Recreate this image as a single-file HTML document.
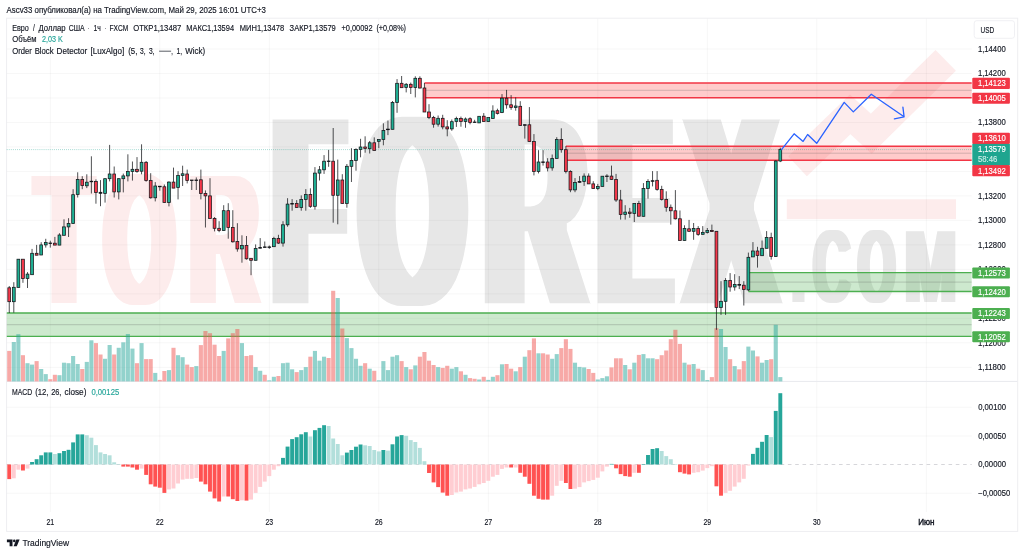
<!DOCTYPE html>
<html lang="ru"><head><meta charset="utf-8"><title>EURUSD chart</title>
<style>html,body{margin:0;padding:0;background:#fff;}body{width:1024px;height:555px;overflow:hidden;}svg{display:block;font-family:"Liberation Sans", sans-serif;}</style>
</head><body>
<svg width="1024" height="555" viewBox="0 0 1024 555">
<rect width="1024" height="555" fill="#fff"/>
<text x="6.5" y="12.6" font-size="8.2" fill="#131722" stroke="#131722" stroke-width="0.15" textLength="259.4" lengthAdjust="spacingAndGlyphs">Ascv33 опубликовал(а) на TradingView.com, Май 29, 2025 16:01 UTC+3</text>
<rect x="6.6" y="18.2" width="1011.1" height="513.2" fill="none" stroke="#eeeef1" stroke-width="1"/>
<defs>
<filter id="fat3" x="-5%" y="-5%" width="110%" height="110%"><feMorphology operator="dilate" radius="3 0"/><feMorphology operator="erode" radius="0 1"/></filter>
<filter id="fat6" x="-5%" y="-5%" width="110%" height="110%"><feMorphology operator="dilate" radius="6 0"/><feMorphology operator="erode" radius="0 1"/></filter>
<filter id="fat10" x="-5%" y="-5%" width="110%" height="110%"><feMorphology operator="dilate" radius="10 0"/><feMorphology operator="erode" radius="0 3"/></filter>
</defs>
<g id="wm">
<g filter="url(#fat6)"><text id="wm-tor" y="303.6" font-size="187.0" font-weight="bold" fill="#fdecec"><tspan x="36.61" textLength="55.06" lengthAdjust="spacingAndGlyphs">T</tspan><tspan x="104.43" textLength="69.71" lengthAdjust="spacingAndGlyphs">O</tspan><tspan x="190.09" textLength="68.00" lengthAdjust="spacingAndGlyphs">R</tspan></text></g>
<g filter="url(#fat10)"><text id="wm-forex" y="306.3" font-size="275.8" font-weight="bold" fill="#e7e7e7"><tspan x="275.22" textLength="67.24" lengthAdjust="spacingAndGlyphs">F</tspan><tspan x="361.08" textLength="102.88" lengthAdjust="spacingAndGlyphs">O</tspan><tspan x="485.57" textLength="99.49" lengthAdjust="spacingAndGlyphs">R</tspan><tspan x="600.87" textLength="68.01" lengthAdjust="spacingAndGlyphs">E</tspan><tspan x="686.60" textLength="89.04" lengthAdjust="spacingAndGlyphs">X</tspan></text></g>
<g filter="url(#fat3)"><text id="wm-com" y="302.6" font-size="104.8" font-weight="bold" fill="#e7e7e7"><tspan x="792.39" textLength="11.91" lengthAdjust="spacingAndGlyphs" font-size="78.0">.</tspan><tspan x="813.20" textLength="37.05" lengthAdjust="spacingAndGlyphs">C</tspan><tspan x="858.04" textLength="37.21" lengthAdjust="spacingAndGlyphs">O</tspan><tspan x="904.84" textLength="51.67" lengthAdjust="spacingAndGlyphs">M</tspan></text></g>
<rect x="786.8" y="199.3" width="169.2" height="19.8" fill="#fdecec"/>
<path d="M798.75 146.35L807.4 155.6L850.2 114.4L871.3 133.7L945.7 60.4" fill="none" stroke="#fdecec" stroke-width="29" stroke-linejoin="miter" stroke-miterlimit="10"/>
</g>
<g stroke="rgba(20,22,35,0.048)" stroke-width="0.8" fill="none">
<path d="M6.8 49.00H971.7"/>
<path d="M6.8 73.48H971.7"/>
<path d="M6.8 97.97H971.7"/>
<path d="M6.8 122.45H971.7"/>
<path d="M6.8 146.94H971.7"/>
<path d="M6.8 171.43H971.7"/>
<path d="M6.8 195.91H971.7"/>
<path d="M6.8 220.39H971.7"/>
<path d="M6.8 244.88H971.7"/>
<path d="M6.8 269.37H971.7"/>
<path d="M6.8 293.85H971.7"/>
<path d="M6.8 318.33H971.7"/>
<path d="M6.8 342.82H971.7"/>
<path d="M6.8 367.31H971.7"/>
<path d="M6.8 407.20H971.7"/>
<path d="M6.8 436.00H971.7"/>
<path d="M6.8 493.20H971.7"/>
<path d="M50.31 18.7V512"/>
<path d="M159.81 18.7V512"/>
<path d="M269.31 18.7V512"/>
<path d="M378.81 18.7V512"/>
<path d="M488.31 18.7V512"/>
<path d="M597.81 18.7V512"/>
<path d="M707.31 18.7V512"/>
<path d="M816.81 18.7V512"/>
<path d="M926.31 18.7V512"/>
</g>
<path d="M6.8 381.4H1017.3" stroke="#e8e9ee" stroke-width="1" fill="none"/>
<g id="zones">
<rect x="424.4" y="83.0" width="547.3" height="14.7" fill="rgba(255,82,82,0.30)"/>
<path d="M424.4 83.0H971.7M424.4 97.7H971.7" stroke="#f23645" stroke-width="1.35" fill="none"/>
<path d="M424.4 90.3H971.7" stroke="rgba(90,90,90,0.45)" stroke-width="0.6" fill="none"/>
<rect x="565.9" y="146.2" width="405.8" height="14.0" fill="rgba(255,82,82,0.30)"/>
<path d="M565.9 146.2H971.7M565.9 160.2H971.7" stroke="#f23645" stroke-width="1.35" fill="none"/>
<path d="M565.9 153.2H971.7" stroke="rgba(90,90,90,0.45)" stroke-width="0.6" fill="none"/>
<rect x="748.4" y="272.6" width="223.3" height="18.9" fill="rgba(76,175,80,0.28)"/>
<path d="M748.4 272.6H971.7M748.4 291.5H971.7" stroke="#4caf50" stroke-width="1.35" fill="none"/>
<path d="M748.4 282.1H971.7" stroke="rgba(90,90,90,0.45)" stroke-width="0.6" fill="none"/>
<rect x="6.8" y="313.0" width="964.9" height="23.4" fill="rgba(76,175,80,0.28)"/>
<path d="M6.8 313.0H971.7M6.8 336.4H971.7" stroke="#4caf50" stroke-width="1.35" fill="none"/>
<path d="M6.8 324.7H971.7" stroke="rgba(90,90,90,0.45)" stroke-width="0.6" fill="none"/>
</g>
<g id="vol">
<rect x="7.20" y="350.9" width="4.1" height="30.5" fill="rgba(239,83,80,0.5)"/>
<rect x="11.76" y="342.0" width="4.1" height="39.4" fill="rgba(38,166,154,0.5)"/>
<rect x="16.32" y="334.2" width="4.1" height="47.2" fill="rgba(38,166,154,0.5)"/>
<rect x="20.89" y="355.2" width="4.1" height="26.2" fill="rgba(239,83,80,0.5)"/>
<rect x="25.45" y="363.2" width="4.1" height="18.2" fill="rgba(38,166,154,0.5)"/>
<rect x="30.01" y="364.6" width="4.1" height="16.8" fill="rgba(38,166,154,0.5)"/>
<rect x="34.58" y="361.1" width="4.1" height="20.3" fill="rgba(239,83,80,0.5)"/>
<rect x="39.14" y="369.0" width="4.1" height="12.4" fill="rgba(38,166,154,0.5)"/>
<rect x="43.70" y="374.1" width="4.1" height="7.3" fill="rgba(38,166,154,0.5)"/>
<rect x="48.26" y="379.2" width="4.1" height="2.2" fill="rgba(239,83,80,0.5)"/>
<rect x="52.83" y="374.8" width="4.1" height="6.6" fill="rgba(239,83,80,0.5)"/>
<rect x="57.39" y="375.2" width="4.1" height="6.2" fill="rgba(38,166,154,0.5)"/>
<rect x="61.95" y="362.7" width="4.1" height="18.7" fill="rgba(38,166,154,0.5)"/>
<rect x="66.51" y="363.2" width="4.1" height="18.2" fill="rgba(38,166,154,0.5)"/>
<rect x="71.08" y="356.0" width="4.1" height="25.4" fill="rgba(38,166,154,0.5)"/>
<rect x="75.64" y="364.0" width="4.1" height="17.4" fill="rgba(38,166,154,0.5)"/>
<rect x="80.20" y="369.0" width="4.1" height="12.4" fill="rgba(239,83,80,0.5)"/>
<rect x="84.76" y="361.9" width="4.1" height="19.5" fill="rgba(38,166,154,0.5)"/>
<rect x="89.33" y="340.3" width="4.1" height="41.1" fill="rgba(38,166,154,0.5)"/>
<rect x="93.89" y="343.1" width="4.1" height="38.3" fill="rgba(239,83,80,0.5)"/>
<rect x="98.45" y="354.5" width="4.1" height="26.9" fill="rgba(239,83,80,0.5)"/>
<rect x="103.01" y="358.8" width="4.1" height="22.6" fill="rgba(38,166,154,0.5)"/>
<rect x="107.58" y="345.0" width="4.1" height="36.4" fill="rgba(38,166,154,0.5)"/>
<rect x="112.14" y="354.5" width="4.1" height="26.9" fill="rgba(239,83,80,0.5)"/>
<rect x="116.70" y="347.8" width="4.1" height="33.6" fill="rgba(38,166,154,0.5)"/>
<rect x="121.26" y="342.3" width="4.1" height="39.1" fill="rgba(38,166,154,0.5)"/>
<rect x="125.83" y="334.0" width="4.1" height="47.4" fill="rgba(38,166,154,0.5)"/>
<rect x="130.39" y="348.6" width="4.1" height="32.8" fill="rgba(38,166,154,0.5)"/>
<rect x="134.95" y="363.2" width="4.1" height="18.2" fill="rgba(239,83,80,0.5)"/>
<rect x="139.51" y="343.1" width="4.1" height="38.3" fill="rgba(38,166,154,0.5)"/>
<rect x="144.07" y="359.1" width="4.1" height="22.3" fill="rgba(239,83,80,0.5)"/>
<rect x="148.64" y="359.1" width="4.1" height="22.3" fill="rgba(239,83,80,0.5)"/>
<rect x="153.20" y="372.9" width="4.1" height="8.5" fill="rgba(38,166,154,0.5)"/>
<rect x="157.76" y="379.9" width="4.1" height="1.5" fill="rgba(239,83,80,0.5)"/>
<rect x="162.32" y="371.0" width="4.1" height="10.4" fill="rgba(239,83,80,0.5)"/>
<rect x="166.89" y="370.1" width="4.1" height="11.3" fill="rgba(38,166,154,0.5)"/>
<rect x="171.45" y="347.8" width="4.1" height="33.6" fill="rgba(239,83,80,0.5)"/>
<rect x="176.01" y="355.2" width="4.1" height="26.2" fill="rgba(38,166,154,0.5)"/>
<rect x="180.57" y="357.2" width="4.1" height="24.2" fill="rgba(38,166,154,0.5)"/>
<rect x="185.14" y="364.6" width="4.1" height="16.8" fill="rgba(239,83,80,0.5)"/>
<rect x="189.70" y="367.1" width="4.1" height="14.3" fill="rgba(239,83,80,0.5)"/>
<rect x="194.26" y="366.1" width="4.1" height="15.3" fill="rgba(38,166,154,0.5)"/>
<rect x="198.82" y="345.1" width="4.1" height="36.3" fill="rgba(239,83,80,0.5)"/>
<rect x="203.39" y="331.0" width="4.1" height="50.4" fill="rgba(239,83,80,0.5)"/>
<rect x="207.95" y="333.2" width="4.1" height="48.2" fill="rgba(239,83,80,0.5)"/>
<rect x="212.51" y="344.7" width="4.1" height="36.7" fill="rgba(239,83,80,0.5)"/>
<rect x="217.07" y="356.0" width="4.1" height="25.4" fill="rgba(239,83,80,0.5)"/>
<rect x="221.64" y="350.9" width="4.1" height="30.5" fill="rgba(38,166,154,0.5)"/>
<rect x="226.20" y="338.4" width="4.1" height="43.0" fill="rgba(239,83,80,0.5)"/>
<rect x="230.76" y="333.2" width="4.1" height="48.2" fill="rgba(239,83,80,0.5)"/>
<rect x="235.32" y="329.0" width="4.1" height="52.4" fill="rgba(239,83,80,0.5)"/>
<rect x="239.89" y="343.1" width="4.1" height="38.3" fill="rgba(38,166,154,0.5)"/>
<rect x="244.45" y="356.0" width="4.1" height="25.4" fill="rgba(239,83,80,0.5)"/>
<rect x="249.01" y="355.2" width="4.1" height="26.2" fill="rgba(239,83,80,0.5)"/>
<rect x="253.57" y="367.1" width="4.1" height="14.3" fill="rgba(38,166,154,0.5)"/>
<rect x="258.14" y="370.8" width="4.1" height="10.6" fill="rgba(38,166,154,0.5)"/>
<rect x="262.70" y="374.8" width="4.1" height="6.6" fill="rgba(239,83,80,0.5)"/>
<rect x="267.26" y="380.3" width="4.1" height="1.1" fill="rgba(38,166,154,0.5)"/>
<rect x="271.82" y="376.8" width="4.1" height="4.6" fill="rgba(38,166,154,0.5)"/>
<rect x="276.39" y="376.0" width="4.1" height="5.4" fill="rgba(239,83,80,0.5)"/>
<rect x="280.95" y="363.2" width="4.1" height="18.2" fill="rgba(38,166,154,0.5)"/>
<rect x="285.51" y="362.7" width="4.1" height="18.7" fill="rgba(38,166,154,0.5)"/>
<rect x="290.07" y="369.3" width="4.1" height="12.1" fill="rgba(38,166,154,0.5)"/>
<rect x="294.64" y="372.1" width="4.1" height="9.3" fill="rgba(239,83,80,0.5)"/>
<rect x="299.20" y="370.1" width="4.1" height="11.3" fill="rgba(38,166,154,0.5)"/>
<rect x="303.76" y="367.1" width="4.1" height="14.3" fill="rgba(38,166,154,0.5)"/>
<rect x="308.32" y="356.7" width="4.1" height="24.7" fill="rgba(239,83,80,0.5)"/>
<rect x="312.89" y="350.9" width="4.1" height="30.5" fill="rgba(38,166,154,0.5)"/>
<rect x="317.45" y="360.7" width="4.1" height="20.7" fill="rgba(38,166,154,0.5)"/>
<rect x="322.01" y="356.7" width="4.1" height="24.7" fill="rgba(38,166,154,0.5)"/>
<rect x="326.57" y="358.0" width="4.1" height="23.4" fill="rgba(239,83,80,0.5)"/>
<rect x="331.14" y="290.8" width="4.1" height="90.6" fill="rgba(239,83,80,0.5)"/>
<rect x="335.70" y="298.0" width="4.1" height="83.4" fill="rgba(38,166,154,0.5)"/>
<rect x="340.26" y="328.5" width="4.1" height="52.9" fill="rgba(239,83,80,0.5)"/>
<rect x="344.82" y="338.1" width="4.1" height="43.3" fill="rgba(38,166,154,0.5)"/>
<rect x="349.39" y="348.1" width="4.1" height="33.3" fill="rgba(38,166,154,0.5)"/>
<rect x="353.95" y="358.8" width="4.1" height="22.6" fill="rgba(38,166,154,0.5)"/>
<rect x="358.51" y="365.8" width="4.1" height="15.6" fill="rgba(38,166,154,0.5)"/>
<rect x="363.07" y="363.2" width="4.1" height="18.2" fill="rgba(239,83,80,0.5)"/>
<rect x="367.64" y="368.7" width="4.1" height="12.7" fill="rgba(38,166,154,0.5)"/>
<rect x="372.20" y="370.8" width="4.1" height="10.6" fill="rgba(239,83,80,0.5)"/>
<rect x="376.76" y="380.3" width="4.1" height="1.1" fill="rgba(38,166,154,0.5)"/>
<rect x="381.32" y="361.1" width="4.1" height="20.3" fill="rgba(38,166,154,0.5)"/>
<rect x="385.89" y="370.1" width="4.1" height="11.3" fill="rgba(38,166,154,0.5)"/>
<rect x="390.45" y="356.7" width="4.1" height="24.7" fill="rgba(38,166,154,0.5)"/>
<rect x="395.01" y="355.2" width="4.1" height="26.2" fill="rgba(38,166,154,0.5)"/>
<rect x="399.57" y="361.1" width="4.1" height="20.3" fill="rgba(239,83,80,0.5)"/>
<rect x="404.14" y="367.1" width="4.1" height="14.3" fill="rgba(38,166,154,0.5)"/>
<rect x="408.70" y="369.3" width="4.1" height="12.1" fill="rgba(239,83,80,0.5)"/>
<rect x="413.26" y="365.4" width="4.1" height="16.0" fill="rgba(38,166,154,0.5)"/>
<rect x="417.82" y="356.7" width="4.1" height="24.7" fill="rgba(239,83,80,0.5)"/>
<rect x="422.39" y="352.0" width="4.1" height="29.4" fill="rgba(239,83,80,0.5)"/>
<rect x="426.95" y="360.7" width="4.1" height="20.7" fill="rgba(239,83,80,0.5)"/>
<rect x="431.51" y="365.0" width="4.1" height="16.4" fill="rgba(239,83,80,0.5)"/>
<rect x="436.07" y="367.1" width="4.1" height="14.3" fill="rgba(38,166,154,0.5)"/>
<rect x="440.64" y="367.9" width="4.1" height="13.5" fill="rgba(239,83,80,0.5)"/>
<rect x="445.20" y="365.8" width="4.1" height="15.6" fill="rgba(239,83,80,0.5)"/>
<rect x="449.76" y="368.7" width="4.1" height="12.7" fill="rgba(38,166,154,0.5)"/>
<rect x="454.32" y="367.1" width="4.1" height="14.3" fill="rgba(38,166,154,0.5)"/>
<rect x="458.89" y="371.3" width="4.1" height="10.1" fill="rgba(239,83,80,0.5)"/>
<rect x="463.45" y="374.8" width="4.1" height="6.6" fill="rgba(38,166,154,0.5)"/>
<rect x="468.01" y="378.1" width="4.1" height="3.3" fill="rgba(239,83,80,0.5)"/>
<rect x="472.57" y="378.8" width="4.1" height="2.6" fill="rgba(239,83,80,0.5)"/>
<rect x="477.14" y="379.5" width="4.1" height="1.9" fill="rgba(38,166,154,0.5)"/>
<rect x="481.70" y="376.8" width="4.1" height="4.6" fill="rgba(239,83,80,0.5)"/>
<rect x="486.26" y="379.9" width="4.1" height="1.5" fill="rgba(38,166,154,0.5)"/>
<rect x="490.82" y="376.8" width="4.1" height="4.6" fill="rgba(38,166,154,0.5)"/>
<rect x="495.39" y="375.2" width="4.1" height="6.2" fill="rgba(239,83,80,0.5)"/>
<rect x="499.95" y="364.3" width="4.1" height="17.1" fill="rgba(38,166,154,0.5)"/>
<rect x="504.51" y="364.0" width="4.1" height="17.4" fill="rgba(239,83,80,0.5)"/>
<rect x="509.07" y="368.7" width="4.1" height="12.7" fill="rgba(239,83,80,0.5)"/>
<rect x="513.64" y="371.3" width="4.1" height="10.1" fill="rgba(38,166,154,0.5)"/>
<rect x="518.20" y="367.1" width="4.1" height="14.3" fill="rgba(239,83,80,0.5)"/>
<rect x="522.76" y="356.7" width="4.1" height="24.7" fill="rgba(38,166,154,0.5)"/>
<rect x="527.33" y="350.2" width="4.1" height="31.2" fill="rgba(239,83,80,0.5)"/>
<rect x="531.89" y="338.4" width="4.1" height="43.0" fill="rgba(239,83,80,0.5)"/>
<rect x="536.45" y="353.3" width="4.1" height="28.1" fill="rgba(38,166,154,0.5)"/>
<rect x="541.01" y="353.3" width="4.1" height="28.1" fill="rgba(239,83,80,0.5)"/>
<rect x="545.58" y="354.5" width="4.1" height="26.9" fill="rgba(239,83,80,0.5)"/>
<rect x="550.14" y="358.8" width="4.1" height="22.6" fill="rgba(38,166,154,0.5)"/>
<rect x="554.70" y="354.1" width="4.1" height="27.3" fill="rgba(38,166,154,0.5)"/>
<rect x="559.26" y="348.1" width="4.1" height="33.3" fill="rgba(239,83,80,0.5)"/>
<rect x="563.83" y="339.2" width="4.1" height="42.2" fill="rgba(239,83,80,0.5)"/>
<rect x="568.39" y="348.9" width="4.1" height="32.5" fill="rgba(239,83,80,0.5)"/>
<rect x="572.95" y="362.7" width="4.1" height="18.7" fill="rgba(38,166,154,0.5)"/>
<rect x="577.51" y="366.9" width="4.1" height="14.5" fill="rgba(38,166,154,0.5)"/>
<rect x="582.08" y="367.4" width="4.1" height="14.0" fill="rgba(38,166,154,0.5)"/>
<rect x="586.64" y="369.0" width="4.1" height="12.4" fill="rgba(239,83,80,0.5)"/>
<rect x="591.20" y="372.9" width="4.1" height="8.5" fill="rgba(239,83,80,0.5)"/>
<rect x="595.76" y="379.5" width="4.1" height="1.9" fill="rgba(38,166,154,0.5)"/>
<rect x="600.33" y="378.1" width="4.1" height="3.3" fill="rgba(38,166,154,0.5)"/>
<rect x="604.89" y="376.3" width="4.1" height="5.1" fill="rgba(38,166,154,0.5)"/>
<rect x="609.45" y="367.4" width="4.1" height="14.0" fill="rgba(239,83,80,0.5)"/>
<rect x="614.01" y="358.3" width="4.1" height="23.1" fill="rgba(239,83,80,0.5)"/>
<rect x="618.58" y="358.3" width="4.1" height="23.1" fill="rgba(239,83,80,0.5)"/>
<rect x="623.14" y="365.0" width="4.1" height="16.4" fill="rgba(38,166,154,0.5)"/>
<rect x="627.70" y="369.3" width="4.1" height="12.1" fill="rgba(239,83,80,0.5)"/>
<rect x="632.26" y="362.7" width="4.1" height="18.7" fill="rgba(38,166,154,0.5)"/>
<rect x="636.83" y="354.9" width="4.1" height="26.5" fill="rgba(239,83,80,0.5)"/>
<rect x="641.39" y="354.1" width="4.1" height="27.3" fill="rgba(38,166,154,0.5)"/>
<rect x="645.95" y="358.3" width="4.1" height="23.1" fill="rgba(38,166,154,0.5)"/>
<rect x="650.51" y="358.3" width="4.1" height="23.1" fill="rgba(38,166,154,0.5)"/>
<rect x="655.08" y="359.2" width="4.1" height="22.2" fill="rgba(239,83,80,0.5)"/>
<rect x="659.64" y="355.2" width="4.1" height="26.2" fill="rgba(239,83,80,0.5)"/>
<rect x="664.20" y="350.5" width="4.1" height="30.9" fill="rgba(239,83,80,0.5)"/>
<rect x="668.76" y="339.2" width="4.1" height="42.2" fill="rgba(239,83,80,0.5)"/>
<rect x="673.33" y="329.8" width="4.1" height="51.6" fill="rgba(239,83,80,0.5)"/>
<rect x="677.89" y="343.9" width="4.1" height="37.5" fill="rgba(239,83,80,0.5)"/>
<rect x="682.45" y="362.7" width="4.1" height="18.7" fill="rgba(38,166,154,0.5)"/>
<rect x="687.01" y="364.6" width="4.1" height="16.8" fill="rgba(239,83,80,0.5)"/>
<rect x="691.58" y="364.0" width="4.1" height="17.4" fill="rgba(38,166,154,0.5)"/>
<rect x="696.14" y="368.7" width="4.1" height="12.7" fill="rgba(239,83,80,0.5)"/>
<rect x="700.70" y="370.1" width="4.1" height="11.3" fill="rgba(38,166,154,0.5)"/>
<rect x="705.26" y="380.0" width="4.1" height="1.4" fill="rgba(38,166,154,0.5)"/>
<rect x="709.83" y="377.1" width="4.1" height="4.3" fill="rgba(239,83,80,0.5)"/>
<rect x="714.39" y="328.2" width="4.1" height="53.2" fill="rgba(239,83,80,0.5)"/>
<rect x="718.95" y="329.0" width="4.1" height="52.4" fill="rgba(38,166,154,0.5)"/>
<rect x="723.51" y="347.0" width="4.1" height="34.4" fill="rgba(38,166,154,0.5)"/>
<rect x="728.08" y="359.2" width="4.1" height="22.2" fill="rgba(239,83,80,0.5)"/>
<rect x="732.64" y="366.1" width="4.1" height="15.3" fill="rgba(38,166,154,0.5)"/>
<rect x="737.20" y="369.3" width="4.1" height="12.1" fill="rgba(239,83,80,0.5)"/>
<rect x="741.76" y="361.1" width="4.1" height="20.3" fill="rgba(239,83,80,0.5)"/>
<rect x="746.33" y="346.6" width="4.1" height="34.8" fill="rgba(38,166,154,0.5)"/>
<rect x="750.89" y="350.5" width="4.1" height="30.9" fill="rgba(38,166,154,0.5)"/>
<rect x="755.45" y="356.4" width="4.1" height="25.0" fill="rgba(239,83,80,0.5)"/>
<rect x="760.01" y="362.7" width="4.1" height="18.7" fill="rgba(38,166,154,0.5)"/>
<rect x="764.58" y="360.0" width="4.1" height="21.4" fill="rgba(38,166,154,0.5)"/>
<rect x="769.14" y="359.2" width="4.1" height="22.2" fill="rgba(239,83,80,0.5)"/>
<rect x="773.70" y="324.8" width="4.1" height="56.6" fill="rgba(38,166,154,0.5)"/>
<rect x="778.26" y="377.1" width="4.1" height="4.3" fill="rgba(38,166,154,0.5)"/>
</g>
<path d="M6.8 149.6H971.7" stroke="#22a391" stroke-width="0.7" stroke-dasharray="0.7 1.35" fill="none" opacity="0.8"/>
<g id="candles">
<path d="M9.25 286.0V313.0" stroke="#14161a" stroke-width="0.75" fill="none"/>
<rect x="7.85" y="287.8" width="2.8" height="13.9" fill="#f5384b" stroke="#14161a" stroke-width="0.75"/>
<path d="M13.81 282.2V312.7" stroke="#14161a" stroke-width="0.75" fill="none"/>
<rect x="12.41" y="287.3" width="2.8" height="14.4" fill="#1fb094" stroke="#14161a" stroke-width="0.75"/>
<path d="M18.38 259.2V287.4" stroke="#14161a" stroke-width="0.75" fill="none"/>
<rect x="16.98" y="259.2" width="2.8" height="28.2" fill="#1fb094" stroke="#14161a" stroke-width="0.75"/>
<path d="M22.94 259.2V282.8" stroke="#14161a" stroke-width="0.75" fill="none"/>
<rect x="21.54" y="259.2" width="2.8" height="19.3" fill="#f5384b" stroke="#14161a" stroke-width="0.75"/>
<path d="M27.50 272.1V288.0" stroke="#14161a" stroke-width="0.75" fill="none"/>
<rect x="26.10" y="274.1" width="2.8" height="4.4" fill="#1fb094" stroke="#14161a" stroke-width="0.75"/>
<path d="M32.06 248.9V274.7" stroke="#14161a" stroke-width="0.75" fill="none"/>
<rect x="30.66" y="253.3" width="2.8" height="21.4" fill="#1fb094" stroke="#14161a" stroke-width="0.75"/>
<path d="M36.62 244.9V255.2" stroke="#14161a" stroke-width="0.75" fill="none"/>
<rect x="35.23" y="253.3" width="2.8" height="1.9" fill="#f5384b" stroke="#14161a" stroke-width="0.75"/>
<path d="M41.19 242.2V255.0" stroke="#14161a" stroke-width="0.75" fill="none"/>
<rect x="39.79" y="244.9" width="2.8" height="10.1" fill="#1fb094" stroke="#14161a" stroke-width="0.75"/>
<path d="M45.75 238.8V247.6" stroke="#14161a" stroke-width="0.75" fill="none"/>
<rect x="44.35" y="242.6" width="2.8" height="2.3" fill="#1fb094" stroke="#14161a" stroke-width="0.75"/>
<path d="M50.31 240.7V247.6" stroke="#14161a" stroke-width="0.75" fill="none"/>
<rect x="48.91" y="243.0" width="2.8" height="0.6" fill="#14161a" stroke="#14161a" stroke-width="0.75"/>
<path d="M54.88 236.9V245.1" stroke="#14161a" stroke-width="0.75" fill="none"/>
<rect x="53.48" y="243.2" width="2.8" height="1.9" fill="#f5384b" stroke="#14161a" stroke-width="0.75"/>
<path d="M59.44 233.2V245.1" stroke="#14161a" stroke-width="0.75" fill="none"/>
<rect x="58.04" y="235.0" width="2.8" height="10.1" fill="#1fb094" stroke="#14161a" stroke-width="0.75"/>
<path d="M64.00 219.3V235.3" stroke="#14161a" stroke-width="0.75" fill="none"/>
<rect x="62.60" y="226.9" width="2.8" height="8.4" fill="#1fb094" stroke="#14161a" stroke-width="0.75"/>
<path d="M68.56 218.2V237.0" stroke="#14161a" stroke-width="0.75" fill="none"/>
<rect x="67.16" y="223.4" width="2.8" height="3.5" fill="#1fb094" stroke="#14161a" stroke-width="0.75"/>
<path d="M73.12 189.2V223.6" stroke="#14161a" stroke-width="0.75" fill="none"/>
<rect x="71.72" y="194.7" width="2.8" height="28.9" fill="#1fb094" stroke="#14161a" stroke-width="0.75"/>
<path d="M77.69 172.3V197.5" stroke="#14161a" stroke-width="0.75" fill="none"/>
<rect x="76.29" y="179.4" width="2.8" height="15.1" fill="#1fb094" stroke="#14161a" stroke-width="0.75"/>
<path d="M82.25 176.2V189.2" stroke="#14161a" stroke-width="0.75" fill="none"/>
<rect x="80.85" y="179.4" width="2.8" height="6.2" fill="#f5384b" stroke="#14161a" stroke-width="0.75"/>
<path d="M86.81 174.3V188.1" stroke="#14161a" stroke-width="0.75" fill="none"/>
<rect x="85.41" y="182.2" width="2.8" height="3.6" fill="#1fb094" stroke="#14161a" stroke-width="0.75"/>
<path d="M91.38 156.3V193.5" stroke="#14161a" stroke-width="0.75" fill="none"/>
<rect x="89.97" y="181.2" width="2.8" height="0.6" fill="#14161a" stroke="#14161a" stroke-width="0.75"/>
<path d="M95.94 179.4V203.7" stroke="#14161a" stroke-width="0.75" fill="none"/>
<rect x="94.54" y="181.4" width="2.8" height="11.0" fill="#f5384b" stroke="#14161a" stroke-width="0.75"/>
<path d="M100.50 180.1V206.2" stroke="#14161a" stroke-width="0.75" fill="none"/>
<rect x="99.10" y="192.3" width="2.8" height="1.0" fill="#14161a" stroke="#14161a" stroke-width="0.75"/>
<path d="M105.06 178.3V202.6" stroke="#14161a" stroke-width="0.75" fill="none"/>
<rect x="103.66" y="178.7" width="2.8" height="14.8" fill="#1fb094" stroke="#14161a" stroke-width="0.75"/>
<path d="M109.62 144.9V181.4" stroke="#14161a" stroke-width="0.75" fill="none"/>
<rect x="108.22" y="174.0" width="2.8" height="4.7" fill="#1fb094" stroke="#14161a" stroke-width="0.75"/>
<path d="M114.19 166.5V197.5" stroke="#14161a" stroke-width="0.75" fill="none"/>
<rect x="112.79" y="174.0" width="2.8" height="17.9" fill="#f5384b" stroke="#14161a" stroke-width="0.75"/>
<path d="M118.75 178.3V199.4" stroke="#14161a" stroke-width="0.75" fill="none"/>
<rect x="117.35" y="178.7" width="2.8" height="13.2" fill="#1fb094" stroke="#14161a" stroke-width="0.75"/>
<path d="M123.31 173.6V192.4" stroke="#14161a" stroke-width="0.75" fill="none"/>
<rect x="121.91" y="175.9" width="2.8" height="2.8" fill="#1fb094" stroke="#14161a" stroke-width="0.75"/>
<path d="M127.88 154.3V181.4" stroke="#14161a" stroke-width="0.75" fill="none"/>
<rect x="126.47" y="171.5" width="2.8" height="4.4" fill="#1fb094" stroke="#14161a" stroke-width="0.75"/>
<path d="M132.44 161.5V180.6" stroke="#14161a" stroke-width="0.75" fill="none"/>
<rect x="131.04" y="169.3" width="2.8" height="2.2" fill="#1fb094" stroke="#14161a" stroke-width="0.75"/>
<path d="M137.00 157.1V172.8" stroke="#14161a" stroke-width="0.75" fill="none"/>
<rect x="135.60" y="169.3" width="2.8" height="2.2" fill="#f5384b" stroke="#14161a" stroke-width="0.75"/>
<path d="M141.56 144.3V174.3" stroke="#14161a" stroke-width="0.75" fill="none"/>
<rect x="140.16" y="162.3" width="2.8" height="8.9" fill="#1fb094" stroke="#14161a" stroke-width="0.75"/>
<path d="M146.12 161.0V181.7" stroke="#14161a" stroke-width="0.75" fill="none"/>
<rect x="144.72" y="162.3" width="2.8" height="18.3" fill="#f5384b" stroke="#14161a" stroke-width="0.75"/>
<path d="M150.69 173.2V198.6" stroke="#14161a" stroke-width="0.75" fill="none"/>
<rect x="149.29" y="180.6" width="2.8" height="17.2" fill="#f5384b" stroke="#14161a" stroke-width="0.75"/>
<path d="M155.25 182.1V201.4" stroke="#14161a" stroke-width="0.75" fill="none"/>
<rect x="153.85" y="186.0" width="2.8" height="11.8" fill="#1fb094" stroke="#14161a" stroke-width="0.75"/>
<path d="M159.81 186.2V190.7" stroke="#14161a" stroke-width="0.75" fill="none"/>
<rect x="158.41" y="186.2" width="2.8" height="0.6" fill="#14161a" stroke="#14161a" stroke-width="0.75"/>
<path d="M164.38 184.5V202.5" stroke="#14161a" stroke-width="0.75" fill="none"/>
<rect x="162.97" y="186.8" width="2.8" height="15.7" fill="#f5384b" stroke="#14161a" stroke-width="0.75"/>
<path d="M168.94 181.3V206.4" stroke="#14161a" stroke-width="0.75" fill="none"/>
<rect x="167.54" y="182.1" width="2.8" height="20.4" fill="#1fb094" stroke="#14161a" stroke-width="0.75"/>
<path d="M173.50 167.6V188.1" stroke="#14161a" stroke-width="0.75" fill="none"/>
<rect x="172.10" y="182.1" width="2.8" height="6.0" fill="#f5384b" stroke="#14161a" stroke-width="0.75"/>
<path d="M178.06 171.2V199.4" stroke="#14161a" stroke-width="0.75" fill="none"/>
<rect x="176.66" y="175.4" width="2.8" height="12.2" fill="#1fb094" stroke="#14161a" stroke-width="0.75"/>
<path d="M182.62 165.7V186.0" stroke="#14161a" stroke-width="0.75" fill="none"/>
<rect x="181.22" y="173.8" width="2.8" height="1.6" fill="#1fb094" stroke="#14161a" stroke-width="0.75"/>
<path d="M187.19 169.6V183.4" stroke="#14161a" stroke-width="0.75" fill="none"/>
<rect x="185.79" y="174.0" width="2.8" height="6.6" fill="#f5384b" stroke="#14161a" stroke-width="0.75"/>
<path d="M191.75 180.0V190.0" stroke="#14161a" stroke-width="0.75" fill="none"/>
<rect x="190.35" y="180.0" width="2.8" height="0.6" fill="#14161a" stroke="#14161a" stroke-width="0.75"/>
<path d="M196.31 177.4V190.0" stroke="#14161a" stroke-width="0.75" fill="none"/>
<rect x="194.91" y="180.0" width="2.8" height="0.6" fill="#14161a" stroke="#14161a" stroke-width="0.75"/>
<path d="M200.88 169.6V199.4" stroke="#14161a" stroke-width="0.75" fill="none"/>
<rect x="199.47" y="179.8" width="2.8" height="13.6" fill="#f5384b" stroke="#14161a" stroke-width="0.75"/>
<path d="M205.44 190.4V227.5" stroke="#14161a" stroke-width="0.75" fill="none"/>
<rect x="204.04" y="193.4" width="2.8" height="2.5" fill="#f5384b" stroke="#14161a" stroke-width="0.75"/>
<path d="M210.00 178.2V218.5" stroke="#14161a" stroke-width="0.75" fill="none"/>
<rect x="208.60" y="195.9" width="2.8" height="22.6" fill="#f5384b" stroke="#14161a" stroke-width="0.75"/>
<path d="M214.56 217.1V231.4" stroke="#14161a" stroke-width="0.75" fill="none"/>
<rect x="213.16" y="218.5" width="2.8" height="9.8" fill="#f5384b" stroke="#14161a" stroke-width="0.75"/>
<path d="M219.12 221.2V232.2" stroke="#14161a" stroke-width="0.75" fill="none"/>
<rect x="217.72" y="228.3" width="2.8" height="2.3" fill="#f5384b" stroke="#14161a" stroke-width="0.75"/>
<path d="M223.69 205.2V230.6" stroke="#14161a" stroke-width="0.75" fill="none"/>
<rect x="222.29" y="210.7" width="2.8" height="19.9" fill="#1fb094" stroke="#14161a" stroke-width="0.75"/>
<path d="M228.25 203.2V238.7" stroke="#14161a" stroke-width="0.75" fill="none"/>
<rect x="226.85" y="210.7" width="2.8" height="16.7" fill="#f5384b" stroke="#14161a" stroke-width="0.75"/>
<path d="M232.81 210.2V242.6" stroke="#14161a" stroke-width="0.75" fill="none"/>
<rect x="231.41" y="227.4" width="2.8" height="14.4" fill="#f5384b" stroke="#14161a" stroke-width="0.75"/>
<path d="M237.38 223.2V251.7" stroke="#14161a" stroke-width="0.75" fill="none"/>
<rect x="235.97" y="241.5" width="2.8" height="7.4" fill="#f5384b" stroke="#14161a" stroke-width="0.75"/>
<path d="M241.94 235.3V262.7" stroke="#14161a" stroke-width="0.75" fill="none"/>
<rect x="240.54" y="245.5" width="2.8" height="3.4" fill="#1fb094" stroke="#14161a" stroke-width="0.75"/>
<path d="M246.50 236.0V259.6" stroke="#14161a" stroke-width="0.75" fill="none"/>
<rect x="245.10" y="245.5" width="2.8" height="13.3" fill="#f5384b" stroke="#14161a" stroke-width="0.75"/>
<path d="M251.06 258.3V275.2" stroke="#14161a" stroke-width="0.75" fill="none"/>
<rect x="249.66" y="258.3" width="2.8" height="2.0" fill="#f5384b" stroke="#14161a" stroke-width="0.75"/>
<path d="M255.62 244.4V260.3" stroke="#14161a" stroke-width="0.75" fill="none"/>
<rect x="254.22" y="248.6" width="2.8" height="11.7" fill="#1fb094" stroke="#14161a" stroke-width="0.75"/>
<path d="M260.19 238.1V248.3" stroke="#14161a" stroke-width="0.75" fill="none"/>
<rect x="258.79" y="247.6" width="2.8" height="0.6" fill="#14161a" stroke="#14161a" stroke-width="0.75"/>
<path d="M264.75 241.5V247.8" stroke="#14161a" stroke-width="0.75" fill="none"/>
<rect x="263.35" y="246.9" width="2.8" height="0.6" fill="#14161a" stroke="#14161a" stroke-width="0.75"/>
<path d="M269.31 245.5V248.9" stroke="#14161a" stroke-width="0.75" fill="none"/>
<rect x="267.91" y="246.9" width="2.8" height="0.6" fill="#14161a" stroke="#14161a" stroke-width="0.75"/>
<path d="M273.88 236.8V247.0" stroke="#14161a" stroke-width="0.75" fill="none"/>
<rect x="272.48" y="238.4" width="2.8" height="8.3" fill="#1fb094" stroke="#14161a" stroke-width="0.75"/>
<path d="M278.44 234.8V243.9" stroke="#14161a" stroke-width="0.75" fill="none"/>
<rect x="277.04" y="238.4" width="2.8" height="4.7" fill="#f5384b" stroke="#14161a" stroke-width="0.75"/>
<path d="M283.00 221.2V246.6" stroke="#14161a" stroke-width="0.75" fill="none"/>
<rect x="281.60" y="224.8" width="2.8" height="18.3" fill="#1fb094" stroke="#14161a" stroke-width="0.75"/>
<path d="M287.56 198.2V226.7" stroke="#14161a" stroke-width="0.75" fill="none"/>
<rect x="286.16" y="204.1" width="2.8" height="20.7" fill="#1fb094" stroke="#14161a" stroke-width="0.75"/>
<path d="M292.12 199.1V210.7" stroke="#14161a" stroke-width="0.75" fill="none"/>
<rect x="290.73" y="203.5" width="2.8" height="0.6" fill="#14161a" stroke="#14161a" stroke-width="0.75"/>
<path d="M296.69 200.1V207.5" stroke="#14161a" stroke-width="0.75" fill="none"/>
<rect x="295.29" y="203.5" width="2.8" height="4.0" fill="#f5384b" stroke="#14161a" stroke-width="0.75"/>
<path d="M301.25 195.4V210.7" stroke="#14161a" stroke-width="0.75" fill="none"/>
<rect x="299.85" y="199.4" width="2.8" height="8.1" fill="#1fb094" stroke="#14161a" stroke-width="0.75"/>
<path d="M305.81 189.1V210.7" stroke="#14161a" stroke-width="0.75" fill="none"/>
<rect x="304.41" y="194.6" width="2.8" height="4.8" fill="#1fb094" stroke="#14161a" stroke-width="0.75"/>
<path d="M310.38 188.3V207.9" stroke="#14161a" stroke-width="0.75" fill="none"/>
<rect x="308.98" y="194.5" width="2.8" height="11.8" fill="#f5384b" stroke="#14161a" stroke-width="0.75"/>
<path d="M314.94 167.1V209.6" stroke="#14161a" stroke-width="0.75" fill="none"/>
<rect x="313.54" y="173.1" width="2.8" height="33.2" fill="#1fb094" stroke="#14161a" stroke-width="0.75"/>
<path d="M319.50 166.0V180.5" stroke="#14161a" stroke-width="0.75" fill="none"/>
<rect x="318.10" y="169.8" width="2.8" height="3.3" fill="#1fb094" stroke="#14161a" stroke-width="0.75"/>
<path d="M324.06 155.1V173.9" stroke="#14161a" stroke-width="0.75" fill="none"/>
<rect x="322.66" y="161.2" width="2.8" height="8.6" fill="#1fb094" stroke="#14161a" stroke-width="0.75"/>
<path d="M328.62 149.9V166.8" stroke="#14161a" stroke-width="0.75" fill="none"/>
<rect x="327.23" y="161.0" width="2.8" height="0.6" fill="#14161a" stroke="#14161a" stroke-width="0.75"/>
<path d="M333.19 128.0V222.7" stroke="#14161a" stroke-width="0.75" fill="none"/>
<rect x="331.79" y="161.2" width="2.8" height="34.1" fill="#f5384b" stroke="#14161a" stroke-width="0.75"/>
<path d="M337.75 159.6V224.3" stroke="#14161a" stroke-width="0.75" fill="none"/>
<rect x="336.35" y="180.0" width="2.8" height="15.3" fill="#1fb094" stroke="#14161a" stroke-width="0.75"/>
<path d="M342.31 174.2V203.5" stroke="#14161a" stroke-width="0.75" fill="none"/>
<rect x="340.91" y="180.0" width="2.8" height="23.5" fill="#f5384b" stroke="#14161a" stroke-width="0.75"/>
<path d="M346.88 164.0V207.7" stroke="#14161a" stroke-width="0.75" fill="none"/>
<rect x="345.48" y="166.3" width="2.8" height="37.2" fill="#1fb094" stroke="#14161a" stroke-width="0.75"/>
<path d="M351.44 148.2V182.0" stroke="#14161a" stroke-width="0.75" fill="none"/>
<rect x="350.04" y="160.4" width="2.8" height="5.9" fill="#1fb094" stroke="#14161a" stroke-width="0.75"/>
<path d="M356.00 148.3V170.7" stroke="#14161a" stroke-width="0.75" fill="none"/>
<rect x="354.60" y="149.4" width="2.8" height="11.0" fill="#1fb094" stroke="#14161a" stroke-width="0.75"/>
<path d="M360.56 138.8V157.3" stroke="#14161a" stroke-width="0.75" fill="none"/>
<rect x="359.16" y="147.0" width="2.8" height="2.5" fill="#1fb094" stroke="#14161a" stroke-width="0.75"/>
<path d="M365.12 136.3V152.7" stroke="#14161a" stroke-width="0.75" fill="none"/>
<rect x="363.73" y="147.0" width="2.8" height="1.5" fill="#f5384b" stroke="#14161a" stroke-width="0.75"/>
<path d="M369.69 141.0V153.5" stroke="#14161a" stroke-width="0.75" fill="none"/>
<rect x="368.29" y="142.8" width="2.8" height="5.9" fill="#1fb094" stroke="#14161a" stroke-width="0.75"/>
<path d="M374.25 137.4V150.4" stroke="#14161a" stroke-width="0.75" fill="none"/>
<rect x="372.85" y="142.8" width="2.8" height="7.6" fill="#f5384b" stroke="#14161a" stroke-width="0.75"/>
<path d="M378.81 139.4V148.2" stroke="#14161a" stroke-width="0.75" fill="none"/>
<rect x="377.41" y="139.4" width="2.8" height="1.9" fill="#1fb094" stroke="#14161a" stroke-width="0.75"/>
<path d="M383.38 123.3V145.3" stroke="#14161a" stroke-width="0.75" fill="none"/>
<rect x="381.98" y="130.4" width="2.8" height="9.2" fill="#1fb094" stroke="#14161a" stroke-width="0.75"/>
<path d="M387.94 120.6V135.1" stroke="#14161a" stroke-width="0.75" fill="none"/>
<rect x="386.54" y="129.1" width="2.8" height="0.6" fill="#14161a" stroke="#14161a" stroke-width="0.75"/>
<path d="M392.50 101.0V129.3" stroke="#14161a" stroke-width="0.75" fill="none"/>
<rect x="391.10" y="102.6" width="2.8" height="26.7" fill="#1fb094" stroke="#14161a" stroke-width="0.75"/>
<path d="M397.06 79.1V112.8" stroke="#14161a" stroke-width="0.75" fill="none"/>
<rect x="395.66" y="83.3" width="2.8" height="19.3" fill="#1fb094" stroke="#14161a" stroke-width="0.75"/>
<path d="M401.62 76.0V87.7" stroke="#14161a" stroke-width="0.75" fill="none"/>
<rect x="400.23" y="83.3" width="2.8" height="4.4" fill="#f5384b" stroke="#14161a" stroke-width="0.75"/>
<path d="M406.19 83.0V92.4" stroke="#14161a" stroke-width="0.75" fill="none"/>
<rect x="404.79" y="84.3" width="2.8" height="3.1" fill="#1fb094" stroke="#14161a" stroke-width="0.75"/>
<path d="M410.75 82.6V94.0" stroke="#14161a" stroke-width="0.75" fill="none"/>
<rect x="409.35" y="84.3" width="2.8" height="3.1" fill="#f5384b" stroke="#14161a" stroke-width="0.75"/>
<path d="M415.31 76.3V97.4" stroke="#14161a" stroke-width="0.75" fill="none"/>
<rect x="413.91" y="78.3" width="2.8" height="9.1" fill="#1fb094" stroke="#14161a" stroke-width="0.75"/>
<path d="M419.88 76.3V88.5" stroke="#14161a" stroke-width="0.75" fill="none"/>
<rect x="418.48" y="78.3" width="2.8" height="9.7" fill="#f5384b" stroke="#14161a" stroke-width="0.75"/>
<path d="M424.44 83.0V112.0" stroke="#14161a" stroke-width="0.75" fill="none"/>
<rect x="423.04" y="88.0" width="2.8" height="24.0" fill="#f5384b" stroke="#14161a" stroke-width="0.75"/>
<path d="M429.00 104.2V119.1" stroke="#14161a" stroke-width="0.75" fill="none"/>
<rect x="427.60" y="112.0" width="2.8" height="5.5" fill="#f5384b" stroke="#14161a" stroke-width="0.75"/>
<path d="M433.56 115.9V127.7" stroke="#14161a" stroke-width="0.75" fill="none"/>
<rect x="432.16" y="117.5" width="2.8" height="6.7" fill="#f5384b" stroke="#14161a" stroke-width="0.75"/>
<path d="M438.12 115.5V126.6" stroke="#14161a" stroke-width="0.75" fill="none"/>
<rect x="436.73" y="118.3" width="2.8" height="5.9" fill="#1fb094" stroke="#14161a" stroke-width="0.75"/>
<path d="M442.69 114.8V129.3" stroke="#14161a" stroke-width="0.75" fill="none"/>
<rect x="441.29" y="118.3" width="2.8" height="8.6" fill="#f5384b" stroke="#14161a" stroke-width="0.75"/>
<path d="M447.25 120.2V136.3" stroke="#14161a" stroke-width="0.75" fill="none"/>
<rect x="445.85" y="126.9" width="2.8" height="2.0" fill="#f5384b" stroke="#14161a" stroke-width="0.75"/>
<path d="M451.81 119.5V130.8" stroke="#14161a" stroke-width="0.75" fill="none"/>
<rect x="450.41" y="121.7" width="2.8" height="7.2" fill="#1fb094" stroke="#14161a" stroke-width="0.75"/>
<path d="M456.38 116.7V126.9" stroke="#14161a" stroke-width="0.75" fill="none"/>
<rect x="454.98" y="118.6" width="2.8" height="2.8" fill="#1fb094" stroke="#14161a" stroke-width="0.75"/>
<path d="M460.94 116.6V126.7" stroke="#14161a" stroke-width="0.75" fill="none"/>
<rect x="459.54" y="118.5" width="2.8" height="3.0" fill="#f5384b" stroke="#14161a" stroke-width="0.75"/>
<path d="M465.50 117.5V127.8" stroke="#14161a" stroke-width="0.75" fill="none"/>
<rect x="464.10" y="119.0" width="2.8" height="2.5" fill="#1fb094" stroke="#14161a" stroke-width="0.75"/>
<path d="M470.06 117.3V124.3" stroke="#14161a" stroke-width="0.75" fill="none"/>
<rect x="468.66" y="118.7" width="2.8" height="3.8" fill="#f5384b" stroke="#14161a" stroke-width="0.75"/>
<path d="M474.62 119.8V122.5" stroke="#14161a" stroke-width="0.75" fill="none"/>
<rect x="473.23" y="122.0" width="2.8" height="0.6" fill="#14161a" stroke="#14161a" stroke-width="0.75"/>
<path d="M479.19 116.3V122.9" stroke="#14161a" stroke-width="0.75" fill="none"/>
<rect x="477.79" y="116.3" width="2.8" height="6.6" fill="#1fb094" stroke="#14161a" stroke-width="0.75"/>
<path d="M483.75 113.1V121.6" stroke="#14161a" stroke-width="0.75" fill="none"/>
<rect x="482.35" y="116.2" width="2.8" height="5.4" fill="#f5384b" stroke="#14161a" stroke-width="0.75"/>
<path d="M488.31 117.6V121.6" stroke="#14161a" stroke-width="0.75" fill="none"/>
<rect x="486.91" y="117.6" width="2.8" height="4.0" fill="#1fb094" stroke="#14161a" stroke-width="0.75"/>
<path d="M492.88 105.3V118.9" stroke="#14161a" stroke-width="0.75" fill="none"/>
<rect x="491.48" y="111.0" width="2.8" height="7.4" fill="#1fb094" stroke="#14161a" stroke-width="0.75"/>
<path d="M497.44 108.7V114.5" stroke="#14161a" stroke-width="0.75" fill="none"/>
<rect x="496.04" y="110.7" width="2.8" height="2.7" fill="#f5384b" stroke="#14161a" stroke-width="0.75"/>
<path d="M502.00 94.1V113.1" stroke="#14161a" stroke-width="0.75" fill="none"/>
<rect x="500.60" y="98.2" width="2.8" height="14.4" fill="#1fb094" stroke="#14161a" stroke-width="0.75"/>
<path d="M506.56 89.9V108.7" stroke="#14161a" stroke-width="0.75" fill="none"/>
<rect x="505.16" y="98.2" width="2.8" height="6.6" fill="#f5384b" stroke="#14161a" stroke-width="0.75"/>
<path d="M511.12 95.1V109.8" stroke="#14161a" stroke-width="0.75" fill="none"/>
<rect x="509.73" y="104.8" width="2.8" height="2.8" fill="#f5384b" stroke="#14161a" stroke-width="0.75"/>
<path d="M515.69 97.4V110.7" stroke="#14161a" stroke-width="0.75" fill="none"/>
<rect x="514.29" y="106.0" width="2.8" height="1.6" fill="#1fb094" stroke="#14161a" stroke-width="0.75"/>
<path d="M520.25 101.2V125.5" stroke="#14161a" stroke-width="0.75" fill="none"/>
<rect x="518.85" y="106.3" width="2.8" height="19.2" fill="#f5384b" stroke="#14161a" stroke-width="0.75"/>
<path d="M524.81 124.4V138.6" stroke="#14161a" stroke-width="0.75" fill="none"/>
<rect x="523.41" y="124.7" width="2.8" height="0.6" fill="#14161a" stroke="#14161a" stroke-width="0.75"/>
<path d="M529.38 107.1V141.6" stroke="#14161a" stroke-width="0.75" fill="none"/>
<rect x="527.98" y="124.8" width="2.8" height="16.8" fill="#f5384b" stroke="#14161a" stroke-width="0.75"/>
<path d="M533.94 134.1V175.4" stroke="#14161a" stroke-width="0.75" fill="none"/>
<rect x="532.54" y="141.6" width="2.8" height="29.8" fill="#f5384b" stroke="#14161a" stroke-width="0.75"/>
<path d="M538.50 150.2V173.4" stroke="#14161a" stroke-width="0.75" fill="none"/>
<rect x="537.10" y="162.0" width="2.8" height="9.4" fill="#1fb094" stroke="#14161a" stroke-width="0.75"/>
<path d="M543.06 150.2V165.6" stroke="#14161a" stroke-width="0.75" fill="none"/>
<rect x="541.66" y="161.9" width="2.8" height="0.6" fill="#14161a" stroke="#14161a" stroke-width="0.75"/>
<path d="M547.62 158.2V171.4" stroke="#14161a" stroke-width="0.75" fill="none"/>
<rect x="546.23" y="162.0" width="2.8" height="5.9" fill="#f5384b" stroke="#14161a" stroke-width="0.75"/>
<path d="M552.19 154.5V170.7" stroke="#14161a" stroke-width="0.75" fill="none"/>
<rect x="550.79" y="158.5" width="2.8" height="9.4" fill="#1fb094" stroke="#14161a" stroke-width="0.75"/>
<path d="M556.75 137.2V158.5" stroke="#14161a" stroke-width="0.75" fill="none"/>
<rect x="555.35" y="139.4" width="2.8" height="19.0" fill="#1fb094" stroke="#14161a" stroke-width="0.75"/>
<path d="M561.31 128.3V152.7" stroke="#14161a" stroke-width="0.75" fill="none"/>
<rect x="559.91" y="139.4" width="2.8" height="10.3" fill="#f5384b" stroke="#14161a" stroke-width="0.75"/>
<path d="M565.88 146.1V173.4" stroke="#14161a" stroke-width="0.75" fill="none"/>
<rect x="564.48" y="149.7" width="2.8" height="21.7" fill="#f5384b" stroke="#14161a" stroke-width="0.75"/>
<path d="M570.44 170.3V192.2" stroke="#14161a" stroke-width="0.75" fill="none"/>
<rect x="569.04" y="171.4" width="2.8" height="18.5" fill="#f5384b" stroke="#14161a" stroke-width="0.75"/>
<path d="M575.00 178.1V192.2" stroke="#14161a" stroke-width="0.75" fill="none"/>
<rect x="573.60" y="182.5" width="2.8" height="7.4" fill="#1fb094" stroke="#14161a" stroke-width="0.75"/>
<path d="M579.56 176.1V182.8" stroke="#14161a" stroke-width="0.75" fill="none"/>
<rect x="578.16" y="181.4" width="2.8" height="0.9" fill="#14161a" stroke="#14161a" stroke-width="0.75"/>
<path d="M584.12 173.4V185.9" stroke="#14161a" stroke-width="0.75" fill="none"/>
<rect x="582.73" y="176.1" width="2.8" height="5.5" fill="#1fb094" stroke="#14161a" stroke-width="0.75"/>
<path d="M588.69 173.4V183.9" stroke="#14161a" stroke-width="0.75" fill="none"/>
<rect x="587.29" y="176.1" width="2.8" height="7.8" fill="#f5384b" stroke="#14161a" stroke-width="0.75"/>
<path d="M593.25 181.2V188.6" stroke="#14161a" stroke-width="0.75" fill="none"/>
<rect x="591.85" y="183.9" width="2.8" height="4.7" fill="#f5384b" stroke="#14161a" stroke-width="0.75"/>
<path d="M597.81 183.9V190.2" stroke="#14161a" stroke-width="0.75" fill="none"/>
<rect x="596.41" y="186.4" width="2.8" height="2.2" fill="#1fb094" stroke="#14161a" stroke-width="0.75"/>
<path d="M602.38 176.2V186.4" stroke="#14161a" stroke-width="0.75" fill="none"/>
<rect x="600.98" y="176.2" width="2.8" height="10.2" fill="#1fb094" stroke="#14161a" stroke-width="0.75"/>
<path d="M606.94 174.2V182.0" stroke="#14161a" stroke-width="0.75" fill="none"/>
<rect x="605.54" y="176.0" width="2.8" height="0.6" fill="#14161a" stroke="#14161a" stroke-width="0.75"/>
<path d="M611.50 165.6V179.7" stroke="#14161a" stroke-width="0.75" fill="none"/>
<rect x="610.10" y="176.1" width="2.8" height="3.3" fill="#f5384b" stroke="#14161a" stroke-width="0.75"/>
<path d="M616.06 173.9V201.9" stroke="#14161a" stroke-width="0.75" fill="none"/>
<rect x="614.66" y="179.4" width="2.8" height="20.6" fill="#f5384b" stroke="#14161a" stroke-width="0.75"/>
<path d="M620.62 189.9V219.6" stroke="#14161a" stroke-width="0.75" fill="none"/>
<rect x="619.23" y="200.0" width="2.8" height="14.6" fill="#f5384b" stroke="#14161a" stroke-width="0.75"/>
<path d="M625.19 205.2V219.6" stroke="#14161a" stroke-width="0.75" fill="none"/>
<rect x="623.79" y="212.1" width="2.8" height="2.5" fill="#1fb094" stroke="#14161a" stroke-width="0.75"/>
<path d="M629.75 207.9V217.8" stroke="#14161a" stroke-width="0.75" fill="none"/>
<rect x="628.35" y="212.1" width="2.8" height="1.3" fill="#f5384b" stroke="#14161a" stroke-width="0.75"/>
<path d="M634.31 203.5V222.0" stroke="#14161a" stroke-width="0.75" fill="none"/>
<rect x="632.91" y="203.5" width="2.8" height="9.9" fill="#1fb094" stroke="#14161a" stroke-width="0.75"/>
<path d="M638.88 200.8V216.2" stroke="#14161a" stroke-width="0.75" fill="none"/>
<rect x="637.48" y="203.5" width="2.8" height="12.7" fill="#f5384b" stroke="#14161a" stroke-width="0.75"/>
<path d="M643.44 183.1V216.5" stroke="#14161a" stroke-width="0.75" fill="none"/>
<rect x="642.04" y="188.5" width="2.8" height="27.8" fill="#1fb094" stroke="#14161a" stroke-width="0.75"/>
<path d="M648.00 179.2V198.6" stroke="#14161a" stroke-width="0.75" fill="none"/>
<rect x="646.60" y="181.6" width="2.8" height="6.9" fill="#1fb094" stroke="#14161a" stroke-width="0.75"/>
<path d="M652.56 171.1V186.4" stroke="#14161a" stroke-width="0.75" fill="none"/>
<rect x="651.16" y="180.7" width="2.8" height="0.6" fill="#14161a" stroke="#14161a" stroke-width="0.75"/>
<path d="M657.12 171.1V190.7" stroke="#14161a" stroke-width="0.75" fill="none"/>
<rect x="655.73" y="180.3" width="2.8" height="9.1" fill="#f5384b" stroke="#14161a" stroke-width="0.75"/>
<path d="M661.69 185.8V200.5" stroke="#14161a" stroke-width="0.75" fill="none"/>
<rect x="660.29" y="189.4" width="2.8" height="10.1" fill="#f5384b" stroke="#14161a" stroke-width="0.75"/>
<path d="M666.25 191.3V211.7" stroke="#14161a" stroke-width="0.75" fill="none"/>
<rect x="664.85" y="199.5" width="2.8" height="7.8" fill="#f5384b" stroke="#14161a" stroke-width="0.75"/>
<path d="M670.81 204.5V224.6" stroke="#14161a" stroke-width="0.75" fill="none"/>
<rect x="669.41" y="207.3" width="2.8" height="3.5" fill="#f5384b" stroke="#14161a" stroke-width="0.75"/>
<path d="M675.38 190.1V219.5" stroke="#14161a" stroke-width="0.75" fill="none"/>
<rect x="673.98" y="210.8" width="2.8" height="8.0" fill="#f5384b" stroke="#14161a" stroke-width="0.75"/>
<path d="M679.94 210.5V240.5" stroke="#14161a" stroke-width="0.75" fill="none"/>
<rect x="678.54" y="218.8" width="2.8" height="21.7" fill="#f5384b" stroke="#14161a" stroke-width="0.75"/>
<path d="M684.50 225.3V240.5" stroke="#14161a" stroke-width="0.75" fill="none"/>
<rect x="683.10" y="228.5" width="2.8" height="12.0" fill="#1fb094" stroke="#14161a" stroke-width="0.75"/>
<path d="M689.06 219.9V231.9" stroke="#14161a" stroke-width="0.75" fill="none"/>
<rect x="687.66" y="228.8" width="2.8" height="2.5" fill="#f5384b" stroke="#14161a" stroke-width="0.75"/>
<path d="M693.62 223.0V239.8" stroke="#14161a" stroke-width="0.75" fill="none"/>
<rect x="692.23" y="228.5" width="2.8" height="2.8" fill="#1fb094" stroke="#14161a" stroke-width="0.75"/>
<path d="M698.19 226.1V235.8" stroke="#14161a" stroke-width="0.75" fill="none"/>
<rect x="696.79" y="228.5" width="2.8" height="5.9" fill="#f5384b" stroke="#14161a" stroke-width="0.75"/>
<path d="M702.75 226.1V234.7" stroke="#14161a" stroke-width="0.75" fill="none"/>
<rect x="701.35" y="232.4" width="2.8" height="1.9" fill="#1fb094" stroke="#14161a" stroke-width="0.75"/>
<path d="M707.31 228.0V233.5" stroke="#14161a" stroke-width="0.75" fill="none"/>
<rect x="705.91" y="230.4" width="2.8" height="2.0" fill="#1fb094" stroke="#14161a" stroke-width="0.75"/>
<path d="M711.88 224.6V231.9" stroke="#14161a" stroke-width="0.75" fill="none"/>
<rect x="710.48" y="230.4" width="2.8" height="1.2" fill="#f5384b" stroke="#14161a" stroke-width="0.75"/>
<path d="M716.44 231.3V329.8" stroke="#14161a" stroke-width="0.75" fill="none"/>
<rect x="715.04" y="231.3" width="2.8" height="76.1" fill="#f5384b" stroke="#14161a" stroke-width="0.75"/>
<path d="M721.00 281.2V314.9" stroke="#14161a" stroke-width="0.75" fill="none"/>
<rect x="719.60" y="301.3" width="2.8" height="6.1" fill="#1fb094" stroke="#14161a" stroke-width="0.75"/>
<path d="M725.56 278.1V314.9" stroke="#14161a" stroke-width="0.75" fill="none"/>
<rect x="724.16" y="280.5" width="2.8" height="20.8" fill="#1fb094" stroke="#14161a" stroke-width="0.75"/>
<path d="M730.12 273.1V291.7" stroke="#14161a" stroke-width="0.75" fill="none"/>
<rect x="728.73" y="280.5" width="2.8" height="6.5" fill="#f5384b" stroke="#14161a" stroke-width="0.75"/>
<path d="M734.69 274.2V290.6" stroke="#14161a" stroke-width="0.75" fill="none"/>
<rect x="733.29" y="284.4" width="2.8" height="2.6" fill="#1fb094" stroke="#14161a" stroke-width="0.75"/>
<path d="M739.25 276.1V289.1" stroke="#14161a" stroke-width="0.75" fill="none"/>
<rect x="737.85" y="284.6" width="2.8" height="0.6" fill="#14161a" stroke="#14161a" stroke-width="0.75"/>
<path d="M743.81 281.2V305.5" stroke="#14161a" stroke-width="0.75" fill="none"/>
<rect x="742.41" y="285.2" width="2.8" height="4.3" fill="#f5384b" stroke="#14161a" stroke-width="0.75"/>
<path d="M748.38 252.6V291.1" stroke="#14161a" stroke-width="0.75" fill="none"/>
<rect x="746.98" y="257.3" width="2.8" height="32.6" fill="#1fb094" stroke="#14161a" stroke-width="0.75"/>
<path d="M752.94 242.1V256.9" stroke="#14161a" stroke-width="0.75" fill="none"/>
<rect x="751.54" y="251.0" width="2.8" height="5.9" fill="#1fb094" stroke="#14161a" stroke-width="0.75"/>
<path d="M757.50 246.8V267.6" stroke="#14161a" stroke-width="0.75" fill="none"/>
<rect x="756.10" y="251.0" width="2.8" height="4.4" fill="#f5384b" stroke="#14161a" stroke-width="0.75"/>
<path d="M762.06 240.5V255.7" stroke="#14161a" stroke-width="0.75" fill="none"/>
<rect x="760.66" y="248.3" width="2.8" height="7.4" fill="#1fb094" stroke="#14161a" stroke-width="0.75"/>
<path d="M766.62 231.1V248.3" stroke="#14161a" stroke-width="0.75" fill="none"/>
<rect x="765.23" y="237.4" width="2.8" height="10.9" fill="#1fb094" stroke="#14161a" stroke-width="0.75"/>
<path d="M771.19 232.7V259.6" stroke="#14161a" stroke-width="0.75" fill="none"/>
<rect x="769.79" y="237.4" width="2.8" height="19.2" fill="#f5384b" stroke="#14161a" stroke-width="0.75"/>
<path d="M775.75 160.4V256.6" stroke="#14161a" stroke-width="0.75" fill="none"/>
<rect x="774.35" y="161.0" width="2.8" height="95.6" fill="#1fb094" stroke="#14161a" stroke-width="0.75"/>
<path d="M780.31 147.7V162.1" stroke="#14161a" stroke-width="0.75" fill="none"/>
<rect x="778.91" y="149.5" width="2.8" height="11.5" fill="#1fb094" stroke="#14161a" stroke-width="0.75"/>
</g>
<path d="M781.5 149.6L794.1 133.8L803.1 141.4L807.6 134.5L816.7 143.3L844.2 102.4L853.3 111.9L871.3 94.2L904.1 116.8M902.9 107.1L904.1 116.8L894.4 118.8" fill="none" stroke="#2962ff" stroke-width="1.3" stroke-linejoin="round" stroke-linecap="round"/>
<g id="macd">
<path d="M6.8 464.5H971.7" stroke="#cbccd1" stroke-width="0.8" stroke-dasharray="3.6 3.7" fill="none"/>
<rect x="7.30" y="464.5" width="3.9" height="14.6" fill="#ff5252"/>
<rect x="11.86" y="464.5" width="3.9" height="13.8" fill="#ffcdd2"/>
<rect x="16.43" y="464.5" width="3.9" height="5.2" fill="#ffcdd2"/>
<rect x="20.99" y="464.5" width="3.9" height="6.0" fill="#ff5252"/>
<rect x="25.55" y="464.5" width="3.9" height="4.1" fill="#ffcdd2"/>
<rect x="30.11" y="462.0" width="3.9" height="2.5" fill="#26a69a"/>
<rect x="34.67" y="459.2" width="3.9" height="5.3" fill="#26a69a"/>
<rect x="39.24" y="455.3" width="3.9" height="9.2" fill="#26a69a"/>
<rect x="43.80" y="452.4" width="3.9" height="12.1" fill="#26a69a"/>
<rect x="48.36" y="452.4" width="3.9" height="12.1" fill="#26a69a"/>
<rect x="52.92" y="454.0" width="3.9" height="10.5" fill="#b2dfdb"/>
<rect x="57.49" y="453.2" width="3.9" height="11.3" fill="#26a69a"/>
<rect x="62.05" y="451.0" width="3.9" height="13.5" fill="#26a69a"/>
<rect x="66.61" y="449.8" width="3.9" height="14.7" fill="#26a69a"/>
<rect x="71.17" y="442.4" width="3.9" height="22.1" fill="#26a69a"/>
<rect x="75.74" y="434.4" width="3.9" height="30.1" fill="#26a69a"/>
<rect x="80.30" y="434.4" width="3.9" height="30.1" fill="#26a69a"/>
<rect x="84.86" y="435.2" width="3.9" height="29.3" fill="#b2dfdb"/>
<rect x="89.42" y="437.7" width="3.9" height="26.8" fill="#b2dfdb"/>
<rect x="93.99" y="445.1" width="3.9" height="19.4" fill="#b2dfdb"/>
<rect x="98.55" y="452.4" width="3.9" height="12.1" fill="#b2dfdb"/>
<rect x="103.11" y="454.0" width="3.9" height="10.5" fill="#b2dfdb"/>
<rect x="107.67" y="455.3" width="3.9" height="9.2" fill="#b2dfdb"/>
<rect x="112.24" y="462.3" width="3.9" height="2.2" fill="#b2dfdb"/>
<rect x="116.80" y="464.0" width="3.9" height="0.5" fill="#b2dfdb"/>
<rect x="121.36" y="464.5" width="3.9" height="2.1" fill="#ff5252"/>
<rect x="125.92" y="464.5" width="3.9" height="2.1" fill="#ff5252"/>
<rect x="130.49" y="464.5" width="3.9" height="3.0" fill="#ff5252"/>
<rect x="135.05" y="464.5" width="3.9" height="5.2" fill="#ff5252"/>
<rect x="139.61" y="464.5" width="3.9" height="4.1" fill="#ffcdd2"/>
<rect x="144.18" y="464.5" width="3.9" height="10.4" fill="#ff5252"/>
<rect x="148.74" y="464.5" width="3.9" height="19.8" fill="#ff5252"/>
<rect x="153.30" y="464.5" width="3.9" height="22.1" fill="#ff5252"/>
<rect x="157.86" y="464.5" width="3.9" height="23.2" fill="#ff5252"/>
<rect x="162.43" y="464.5" width="3.9" height="28.4" fill="#ff5252"/>
<rect x="166.99" y="464.5" width="3.9" height="24.9" fill="#ffcdd2"/>
<rect x="171.55" y="464.5" width="3.9" height="24.0" fill="#ffcdd2"/>
<rect x="176.11" y="464.5" width="3.9" height="19.0" fill="#ffcdd2"/>
<rect x="180.68" y="464.5" width="3.9" height="15.1" fill="#ffcdd2"/>
<rect x="185.24" y="464.5" width="3.9" height="14.3" fill="#ffcdd2"/>
<rect x="189.80" y="464.5" width="3.9" height="14.3" fill="#ffcdd2"/>
<rect x="194.36" y="464.5" width="3.9" height="13.5" fill="#ffcdd2"/>
<rect x="198.93" y="464.5" width="3.9" height="17.1" fill="#ff5252"/>
<rect x="203.49" y="464.5" width="3.9" height="19.8" fill="#ff5252"/>
<rect x="208.05" y="464.5" width="3.9" height="27.1" fill="#ff5252"/>
<rect x="212.61" y="464.5" width="3.9" height="33.9" fill="#ff5252"/>
<rect x="217.18" y="464.5" width="3.9" height="37.0" fill="#ff5252"/>
<rect x="221.74" y="464.5" width="3.9" height="32.0" fill="#ffcdd2"/>
<rect x="226.30" y="464.5" width="3.9" height="32.0" fill="#ff5252"/>
<rect x="230.86" y="464.5" width="3.9" height="34.7" fill="#ff5252"/>
<rect x="235.43" y="464.5" width="3.9" height="36.5" fill="#ff5252"/>
<rect x="239.99" y="464.5" width="3.9" height="35.8" fill="#ffcdd2"/>
<rect x="244.55" y="464.5" width="3.9" height="36.1" fill="#ff5252"/>
<rect x="249.11" y="464.5" width="3.9" height="35.1" fill="#ffcdd2"/>
<rect x="253.68" y="464.5" width="3.9" height="28.4" fill="#ffcdd2"/>
<rect x="258.24" y="464.5" width="3.9" height="22.4" fill="#ffcdd2"/>
<rect x="262.80" y="464.5" width="3.9" height="17.1" fill="#ffcdd2"/>
<rect x="267.36" y="464.5" width="3.9" height="11.6" fill="#ffcdd2"/>
<rect x="271.93" y="464.5" width="3.9" height="5.2" fill="#ffcdd2"/>
<rect x="276.49" y="464.5" width="3.9" height="1.7" fill="#ffcdd2"/>
<rect x="281.05" y="457.9" width="3.9" height="6.6" fill="#26a69a"/>
<rect x="285.61" y="446.6" width="3.9" height="17.9" fill="#26a69a"/>
<rect x="290.18" y="439.1" width="3.9" height="25.4" fill="#26a69a"/>
<rect x="294.74" y="437.2" width="3.9" height="27.3" fill="#26a69a"/>
<rect x="299.30" y="434.3" width="3.9" height="30.2" fill="#26a69a"/>
<rect x="303.86" y="432.2" width="3.9" height="32.3" fill="#26a69a"/>
<rect x="308.43" y="436.5" width="3.9" height="28.0" fill="#b2dfdb"/>
<rect x="312.99" y="430.2" width="3.9" height="34.3" fill="#26a69a"/>
<rect x="317.55" y="427.9" width="3.9" height="36.6" fill="#26a69a"/>
<rect x="322.11" y="425.2" width="3.9" height="39.3" fill="#26a69a"/>
<rect x="326.68" y="426.0" width="3.9" height="38.5" fill="#b2dfdb"/>
<rect x="331.24" y="438.5" width="3.9" height="26.0" fill="#b2dfdb"/>
<rect x="335.80" y="444.0" width="3.9" height="20.5" fill="#b2dfdb"/>
<rect x="340.36" y="455.3" width="3.9" height="9.2" fill="#b2dfdb"/>
<rect x="344.93" y="452.6" width="3.9" height="11.9" fill="#26a69a"/>
<rect x="349.49" y="450.0" width="3.9" height="14.5" fill="#26a69a"/>
<rect x="354.05" y="446.7" width="3.9" height="17.8" fill="#26a69a"/>
<rect x="358.61" y="444.5" width="3.9" height="20.0" fill="#26a69a"/>
<rect x="363.18" y="445.3" width="3.9" height="19.2" fill="#b2dfdb"/>
<rect x="367.74" y="446.0" width="3.9" height="18.5" fill="#b2dfdb"/>
<rect x="372.30" y="450.0" width="3.9" height="14.5" fill="#b2dfdb"/>
<rect x="376.86" y="451.4" width="3.9" height="13.1" fill="#b2dfdb"/>
<rect x="381.43" y="450.0" width="3.9" height="14.5" fill="#26a69a"/>
<rect x="385.99" y="450.6" width="3.9" height="13.9" fill="#b2dfdb"/>
<rect x="390.55" y="444.3" width="3.9" height="20.2" fill="#26a69a"/>
<rect x="395.11" y="436.5" width="3.9" height="28.0" fill="#26a69a"/>
<rect x="399.68" y="435.1" width="3.9" height="29.4" fill="#26a69a"/>
<rect x="404.24" y="435.8" width="3.9" height="28.7" fill="#b2dfdb"/>
<rect x="408.80" y="440.1" width="3.9" height="24.4" fill="#b2dfdb"/>
<rect x="413.36" y="442.0" width="3.9" height="22.5" fill="#b2dfdb"/>
<rect x="417.93" y="447.9" width="3.9" height="16.6" fill="#b2dfdb"/>
<rect x="422.49" y="461.2" width="3.9" height="3.3" fill="#b2dfdb"/>
<rect x="427.05" y="464.5" width="3.9" height="8.5" fill="#ff5252"/>
<rect x="431.61" y="464.5" width="3.9" height="17.9" fill="#ff5252"/>
<rect x="436.18" y="464.5" width="3.9" height="22.6" fill="#ff5252"/>
<rect x="440.74" y="464.5" width="3.9" height="28.1" fill="#ff5252"/>
<rect x="445.30" y="464.5" width="3.9" height="31.2" fill="#ff5252"/>
<rect x="449.86" y="464.5" width="3.9" height="30.5" fill="#ffcdd2"/>
<rect x="454.43" y="464.5" width="3.9" height="28.0" fill="#ffcdd2"/>
<rect x="458.99" y="464.5" width="3.9" height="27.1" fill="#ffcdd2"/>
<rect x="463.55" y="464.5" width="3.9" height="24.9" fill="#ffcdd2"/>
<rect x="468.11" y="464.5" width="3.9" height="24.0" fill="#ffcdd2"/>
<rect x="472.68" y="464.5" width="3.9" height="22.4" fill="#ffcdd2"/>
<rect x="477.24" y="464.5" width="3.9" height="19.8" fill="#ffcdd2"/>
<rect x="481.80" y="464.5" width="3.9" height="18.5" fill="#ffcdd2"/>
<rect x="486.36" y="464.5" width="3.9" height="16.3" fill="#ffcdd2"/>
<rect x="490.93" y="464.5" width="3.9" height="12.2" fill="#ffcdd2"/>
<rect x="495.49" y="464.5" width="3.9" height="10.4" fill="#ffcdd2"/>
<rect x="500.05" y="464.5" width="3.9" height="4.4" fill="#ffcdd2"/>
<rect x="504.61" y="464.5" width="3.9" height="3.0" fill="#ffcdd2"/>
<rect x="509.18" y="464.5" width="3.9" height="3.0" fill="#ff5252"/>
<rect x="513.74" y="464.5" width="3.9" height="3.0" fill="#ffcdd2"/>
<rect x="518.30" y="464.5" width="3.9" height="8.3" fill="#ff5252"/>
<rect x="522.86" y="464.5" width="3.9" height="12.2" fill="#ff5252"/>
<rect x="527.42" y="464.5" width="3.9" height="19.3" fill="#ff5252"/>
<rect x="531.99" y="464.5" width="3.9" height="31.2" fill="#ff5252"/>
<rect x="536.55" y="464.5" width="3.9" height="34.3" fill="#ff5252"/>
<rect x="541.11" y="464.5" width="3.9" height="35.1" fill="#ff5252"/>
<rect x="545.67" y="464.5" width="3.9" height="35.1" fill="#ff5252"/>
<rect x="550.24" y="464.5" width="3.9" height="31.2" fill="#ffcdd2"/>
<rect x="554.80" y="464.5" width="3.9" height="21.3" fill="#ffcdd2"/>
<rect x="559.36" y="464.5" width="3.9" height="16.3" fill="#ffcdd2"/>
<rect x="563.92" y="464.5" width="3.9" height="18.5" fill="#ff5252"/>
<rect x="568.49" y="464.5" width="3.9" height="24.5" fill="#ff5252"/>
<rect x="573.05" y="464.5" width="3.9" height="24.2" fill="#ffcdd2"/>
<rect x="577.61" y="464.5" width="3.9" height="22.6" fill="#ffcdd2"/>
<rect x="582.17" y="464.5" width="3.9" height="17.9" fill="#ffcdd2"/>
<rect x="586.74" y="464.5" width="3.9" height="16.6" fill="#ffcdd2"/>
<rect x="591.30" y="464.5" width="3.9" height="15.4" fill="#ffcdd2"/>
<rect x="595.86" y="464.5" width="3.9" height="13.2" fill="#ffcdd2"/>
<rect x="600.42" y="464.5" width="3.9" height="6.9" fill="#ffcdd2"/>
<rect x="604.99" y="464.5" width="3.9" height="2.1" fill="#ffcdd2"/>
<rect x="609.55" y="463.9" width="3.9" height="0.6" fill="#26a69a"/>
<rect x="614.11" y="464.5" width="3.9" height="3.8" fill="#ff5252"/>
<rect x="618.67" y="464.5" width="3.9" height="9.6" fill="#ff5252"/>
<rect x="623.24" y="464.5" width="3.9" height="11.6" fill="#ff5252"/>
<rect x="627.80" y="464.5" width="3.9" height="12.2" fill="#ff5252"/>
<rect x="632.36" y="464.5" width="3.9" height="8.3" fill="#ffcdd2"/>
<rect x="636.92" y="464.5" width="3.9" height="8.3" fill="#ff5252"/>
<rect x="641.49" y="464.0" width="3.9" height="0.5" fill="#26a69a"/>
<rect x="646.05" y="455.0" width="3.9" height="9.5" fill="#26a69a"/>
<rect x="650.61" y="449.0" width="3.9" height="15.5" fill="#26a69a"/>
<rect x="655.17" y="448.2" width="3.9" height="16.3" fill="#26a69a"/>
<rect x="659.74" y="451.0" width="3.9" height="13.5" fill="#b2dfdb"/>
<rect x="664.30" y="456.1" width="3.9" height="8.4" fill="#b2dfdb"/>
<rect x="668.86" y="459.2" width="3.9" height="5.3" fill="#b2dfdb"/>
<rect x="673.42" y="464.0" width="3.9" height="0.5" fill="#b2dfdb"/>
<rect x="677.99" y="464.5" width="3.9" height="7.7" fill="#ff5252"/>
<rect x="682.55" y="464.5" width="3.9" height="9.1" fill="#ff5252"/>
<rect x="687.11" y="464.5" width="3.9" height="9.9" fill="#ff5252"/>
<rect x="691.67" y="464.5" width="3.9" height="8.3" fill="#ffcdd2"/>
<rect x="696.24" y="464.5" width="3.9" height="7.7" fill="#ffcdd2"/>
<rect x="700.80" y="464.5" width="3.9" height="6.1" fill="#ffcdd2"/>
<rect x="705.36" y="464.5" width="3.9" height="3.6" fill="#ffcdd2"/>
<rect x="709.92" y="464.5" width="3.9" height="1.7" fill="#ffcdd2"/>
<rect x="714.49" y="464.5" width="3.9" height="21.8" fill="#ff5252"/>
<rect x="719.05" y="464.5" width="3.9" height="31.2" fill="#ff5252"/>
<rect x="723.61" y="464.5" width="3.9" height="28.4" fill="#ffcdd2"/>
<rect x="728.17" y="464.5" width="3.9" height="26.3" fill="#ffcdd2"/>
<rect x="732.74" y="464.5" width="3.9" height="22.1" fill="#ffcdd2"/>
<rect x="737.30" y="464.5" width="3.9" height="17.9" fill="#ffcdd2"/>
<rect x="741.86" y="464.5" width="3.9" height="14.3" fill="#ffcdd2"/>
<rect x="746.42" y="464.5" width="3.9" height="1.0" fill="#ffcdd2"/>
<rect x="750.99" y="453.9" width="3.9" height="10.6" fill="#26a69a"/>
<rect x="755.55" y="447.8" width="3.9" height="16.7" fill="#26a69a"/>
<rect x="760.11" y="441.8" width="3.9" height="22.7" fill="#26a69a"/>
<rect x="764.67" y="435.0" width="3.9" height="29.5" fill="#26a69a"/>
<rect x="769.24" y="437.1" width="3.9" height="27.4" fill="#b2dfdb"/>
<rect x="773.80" y="410.9" width="3.9" height="53.6" fill="#26a69a"/>
<rect x="778.36" y="393.2" width="3.9" height="71.3" fill="#26a69a"/>
</g>
<g id="axis">
<text x="977.9" y="51.95" font-size="8.2" fill="#131722" stroke="#131722" stroke-width="0.15" textLength="27.8" lengthAdjust="spacingAndGlyphs">1,14400</text>
<text x="977.9" y="76.435" font-size="8.2" fill="#131722" stroke="#131722" stroke-width="0.15" textLength="27.8" lengthAdjust="spacingAndGlyphs">1,14200</text>
<text x="977.9" y="125.405" font-size="8.2" fill="#131722" stroke="#131722" stroke-width="0.15" textLength="27.8" lengthAdjust="spacingAndGlyphs">1,13800</text>
<text x="977.9" y="198.85999999999999" font-size="8.2" fill="#131722" stroke="#131722" stroke-width="0.15" textLength="27.8" lengthAdjust="spacingAndGlyphs">1,13200</text>
<text x="977.9" y="223.34499999999997" font-size="8.2" fill="#131722" stroke="#131722" stroke-width="0.15" textLength="27.8" lengthAdjust="spacingAndGlyphs">1,13000</text>
<text x="977.9" y="247.82999999999998" font-size="8.2" fill="#131722" stroke="#131722" stroke-width="0.15" textLength="27.8" lengthAdjust="spacingAndGlyphs">1,12800</text>
<text x="977.9" y="272.315" font-size="8.2" fill="#131722" stroke="#131722" stroke-width="0.15" textLength="27.8" lengthAdjust="spacingAndGlyphs">1,12600</text>
<text x="977.9" y="321.28499999999997" font-size="8.2" fill="#131722" stroke="#131722" stroke-width="0.15" textLength="27.8" lengthAdjust="spacingAndGlyphs">1,12200</text>
<text x="977.9" y="345.77" font-size="8.2" fill="#131722" stroke="#131722" stroke-width="0.15" textLength="27.8" lengthAdjust="spacingAndGlyphs">1,12000</text>
<text x="977.9" y="370.255" font-size="8.2" fill="#131722" stroke="#131722" stroke-width="0.15" textLength="27.8" lengthAdjust="spacingAndGlyphs">1,11800</text>
<text x="978.2" y="410.15" font-size="8.2" fill="#131722" stroke="#131722" stroke-width="0.15" textLength="27.8" lengthAdjust="spacingAndGlyphs">0,00100</text>
<text x="978.2" y="438.95" font-size="8.2" fill="#131722" stroke="#131722" stroke-width="0.15" textLength="27.8" lengthAdjust="spacingAndGlyphs">0,00050</text>
<text x="978.2" y="467.45" font-size="8.2" fill="#131722" stroke="#131722" stroke-width="0.15" textLength="27.8" lengthAdjust="spacingAndGlyphs">0,00000</text>
<text x="978.2" y="496.15" font-size="8.2" fill="#131722" stroke="#131722" stroke-width="0.15" textLength="32.0" lengthAdjust="spacingAndGlyphs">−0,00050</text>
<rect x="974.2" y="20.7" width="40.3" height="17.6" rx="2.5" fill="#fff" stroke="#ececf0" stroke-width="0.8"/>
<text x="980.6" y="32.9" font-size="8.2" fill="#131722" stroke="#131722" stroke-width="0.15" textLength="13.6" lengthAdjust="spacingAndGlyphs">USD</text>
<rect x="972.3" y="77.8" width="37.6" height="11.1" rx="1" fill="#f23645"/>
<text x="977.9" y="86.25" font-size="8.2" fill="#fff" stroke="#fff" stroke-width="0.15" textLength="27.8" lengthAdjust="spacingAndGlyphs">1,14123</text>
<rect x="972.3" y="92.7" width="37.6" height="11.1" rx="1" fill="#f23645"/>
<text x="977.9" y="101.15" font-size="8.2" fill="#fff" stroke="#fff" stroke-width="0.15" textLength="27.8" lengthAdjust="spacingAndGlyphs">1,14005</text>
<rect x="972.3" y="132.8" width="37.6" height="11.1" rx="1" fill="#f23645"/>
<text x="977.9" y="141.25" font-size="8.2" fill="#fff" stroke="#fff" stroke-width="0.15" textLength="27.8" lengthAdjust="spacingAndGlyphs">1,13610</text>
<rect x="972.3" y="165.1" width="37.6" height="11.1" rx="1" fill="#f23645"/>
<text x="977.9" y="173.54999999999998" font-size="8.2" fill="#fff" stroke="#fff" stroke-width="0.15" textLength="27.8" lengthAdjust="spacingAndGlyphs">1,13492</text>
<rect x="972.3" y="143.9" width="37.6" height="21.2" fill="#1ea58f"/>
<text x="977.9" y="152.0" font-size="8.2" fill="#fff" stroke="#fff" stroke-width="0.15" textLength="27.8" lengthAdjust="spacingAndGlyphs">1,13579</text>
<text x="977.9" y="161.7" font-size="8.2" fill="#c9ece6" stroke="#c9ece6" stroke-width="0.15" textLength="19.4" lengthAdjust="spacingAndGlyphs">58:46</text>
<rect x="972.3" y="267.4" width="37.6" height="11.1" rx="1" fill="#4caf50"/>
<text x="977.9" y="275.84999999999997" font-size="8.2" fill="#fff" stroke="#fff" stroke-width="0.15" textLength="27.8" lengthAdjust="spacingAndGlyphs">1,12573</text>
<rect x="972.3" y="286.2" width="37.6" height="11.1" rx="1" fill="#4caf50"/>
<text x="977.9" y="294.65" font-size="8.2" fill="#fff" stroke="#fff" stroke-width="0.15" textLength="27.8" lengthAdjust="spacingAndGlyphs">1,12420</text>
<rect x="972.3" y="308.0" width="37.6" height="11.1" rx="1" fill="#4caf50"/>
<text x="977.9" y="316.45" font-size="8.2" fill="#fff" stroke="#fff" stroke-width="0.15" textLength="27.8" lengthAdjust="spacingAndGlyphs">1,12243</text>
<rect x="972.3" y="331.2" width="37.6" height="11.1" rx="1" fill="#4caf50"/>
<text x="977.9" y="339.65" font-size="8.2" fill="#fff" stroke="#fff" stroke-width="0.15" textLength="27.8" lengthAdjust="spacingAndGlyphs">1,12052</text>
</g>
<text x="46.5125" y="525.0" font-size="8.2" fill="#131722" stroke="#131722" stroke-width="0.15" textLength="7.7" lengthAdjust="spacingAndGlyphs">21</text>
<text x="156.0125" y="525.0" font-size="8.2" fill="#131722" stroke="#131722" stroke-width="0.15" textLength="7.7" lengthAdjust="spacingAndGlyphs">22</text>
<text x="265.5125" y="525.0" font-size="8.2" fill="#131722" stroke="#131722" stroke-width="0.15" textLength="7.7" lengthAdjust="spacingAndGlyphs">23</text>
<text x="375.0125" y="525.0" font-size="8.2" fill="#131722" stroke="#131722" stroke-width="0.15" textLength="7.7" lengthAdjust="spacingAndGlyphs">26</text>
<text x="484.5125" y="525.0" font-size="8.2" fill="#131722" stroke="#131722" stroke-width="0.15" textLength="7.7" lengthAdjust="spacingAndGlyphs">27</text>
<text x="594.0125" y="525.0" font-size="8.2" fill="#131722" stroke="#131722" stroke-width="0.15" textLength="7.7" lengthAdjust="spacingAndGlyphs">28</text>
<text x="703.5125" y="525.0" font-size="8.2" fill="#131722" stroke="#131722" stroke-width="0.15" textLength="7.7" lengthAdjust="spacingAndGlyphs">29</text>
<text x="813.0125" y="525.0" font-size="8.2" fill="#131722" stroke="#131722" stroke-width="0.15" textLength="7.7" lengthAdjust="spacingAndGlyphs">30</text>
<text x="918.2125" y="525.0" font-size="8.2" fill="#131722" stroke="#131722" stroke-width="0.15" textLength="16.3" lengthAdjust="spacingAndGlyphs" style="stroke-width:0.4">Июн</text>
<text y="30.9" font-size="8.2" fill="#131722" stroke="#131722" stroke-width="0.15"><tspan x="12.2" textLength="16.6" lengthAdjust="spacingAndGlyphs">Евро</tspan> <tspan x="33.0" textLength="1.8" lengthAdjust="spacingAndGlyphs">/</tspan> <tspan x="38.5" textLength="27.1" lengthAdjust="spacingAndGlyphs">Доллар</tspan> <tspan x="68.7" textLength="16.0" lengthAdjust="spacingAndGlyphs">США</tspan> <tspan x="88.0" textLength="1.2" lengthAdjust="spacingAndGlyphs">·</tspan> <tspan x="93.6" textLength="7.3" lengthAdjust="spacingAndGlyphs">1ч</tspan> <tspan x="104.8" textLength="1.2" lengthAdjust="spacingAndGlyphs">·</tspan> <tspan x="109.5" textLength="18.7" lengthAdjust="spacingAndGlyphs">FXCM</tspan> <tspan x="133.2" textLength="48.0" lengthAdjust="spacingAndGlyphs">ОТКР1,13487</tspan> <tspan x="186.2" textLength="47.9" lengthAdjust="spacingAndGlyphs">МАКС1,13594</tspan> <tspan x="239.8" textLength="44.3" lengthAdjust="spacingAndGlyphs">МИН1,13478</tspan> <tspan x="289.6" textLength="46.2" lengthAdjust="spacingAndGlyphs">ЗАКР1,13579</tspan> <tspan x="341.5" textLength="31.1" lengthAdjust="spacingAndGlyphs">+0,00092</tspan> <tspan x="376.4" textLength="29.6" lengthAdjust="spacingAndGlyphs">(+0,08%)</tspan></text>
<text y="41.9" font-size="8.2" fill="#131722" stroke="#131722" stroke-width="0.15"><tspan x="12.2" textLength="24.4" lengthAdjust="spacingAndGlyphs">Объём</tspan> <tspan x="41.9" textLength="20.8" lengthAdjust="spacingAndGlyphs" fill="#26a69a" stroke="#26a69a">2,03 K</tspan></text>
<text y="53.6" font-size="8.2" fill="#131722" stroke="#131722" stroke-width="0.15"><tspan x="12.2" textLength="19.6" lengthAdjust="spacingAndGlyphs">Order</tspan> <tspan x="34.7" textLength="18.9" lengthAdjust="spacingAndGlyphs">Block</tspan> <tspan x="56.6" textLength="30.6" lengthAdjust="spacingAndGlyphs">Detector</tspan> <tspan x="90.4" textLength="33.8" lengthAdjust="spacingAndGlyphs">[LuxAlgo]</tspan> <tspan x="128.2" textLength="9.2" lengthAdjust="spacingAndGlyphs">(5,</tspan> <tspan x="140.1" textLength="5.6" lengthAdjust="spacingAndGlyphs">3,</tspan> <tspan x="148.9" textLength="5.6" lengthAdjust="spacingAndGlyphs">3,</tspan></text>
<path d="M159.1 51.2H171.1" stroke="#131722" stroke-width="0.7"/>
<text y="53.6" font-size="8.2" fill="#131722" stroke="#131722" stroke-width="0.15"><tspan x="171.3" textLength="1.6" lengthAdjust="spacingAndGlyphs">,</tspan> <tspan x="176.6" textLength="5.6" lengthAdjust="spacingAndGlyphs">1,</tspan> <tspan x="185.3" textLength="19.8" lengthAdjust="spacingAndGlyphs">Wick)</tspan></text>
<text y="394.9" font-size="8.2" fill="#131722" stroke="#131722" stroke-width="0.15"><tspan x="12.0" textLength="20.2" lengthAdjust="spacingAndGlyphs">MACD</tspan> <tspan x="35.2" textLength="13.3" lengthAdjust="spacingAndGlyphs">(12,</tspan> <tspan x="51.2" textLength="10.2" lengthAdjust="spacingAndGlyphs">26,</tspan> <tspan x="64.6" textLength="21.8" lengthAdjust="spacingAndGlyphs">close)</tspan> <tspan x="91.4" textLength="27.8" lengthAdjust="spacingAndGlyphs" fill="#26a69a" stroke="#26a69a">0,00125</tspan></text>
<g fill="#131722"><path d="M6.9 539.6h5.6v6.6h-2.9v-3.9h-2.7z"/><circle cx="14.3" cy="540.9" r="1.3"/><path d="M16.3 539.6h3.3l-2.8 6.6h-3.2z"/></g>
<text x="22.4" y="546.2" font-size="8.8" fill="#131722" stroke="#131722" stroke-width="0.15" textLength="46.7" lengthAdjust="spacingAndGlyphs">TradingView</text>
</svg>
</body></html>
